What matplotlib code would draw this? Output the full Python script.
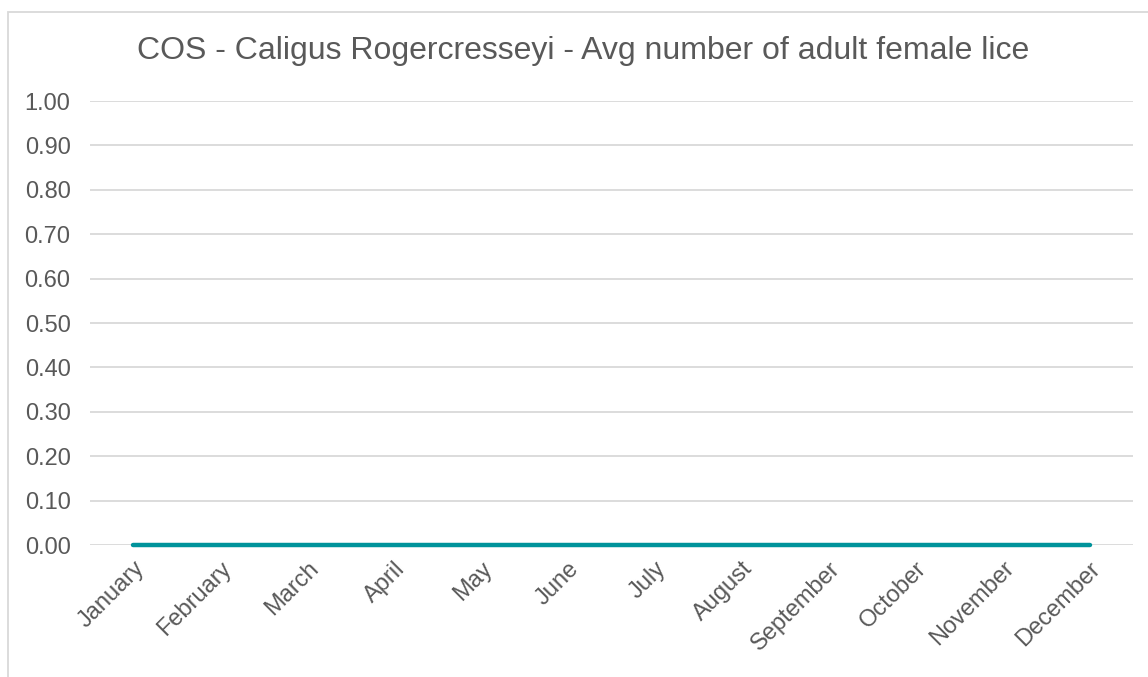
import matplotlib
matplotlib.use("Agg")
import matplotlib.pyplot as plt
from matplotlib.patches import Rectangle

months = ["January", "February", "March", "April", "May", "June", "July",
          "August", "September", "October", "November", "December"]
avg_adult_female = [0.00] * 12
y_ticks = [0.0, 0.1, 0.2, 0.3, 0.4, 0.5, 0.6, 0.7, 0.8, 0.9, 1.0]

W, H = 1148, 677
plt.rcParams["font.family"] = ["Liberation Sans", "DejaVu Sans"]
fig = plt.figure(figsize=(W / 100, H / 100), dpi=100)

# chart frame, running off the right and bottom edges
fig.patches.append(Rectangle((7.5 / W, -0.1), 1.2, 1.1 - 11.5 / H,
                             transform=fig.transFigure, fill=False,
                             edgecolor="#D9D9D9", linewidth=1.3))

ax = fig.add_axes([90 / W, 132 / H, (1133 - 90) / W, (576 - 132) / H])
x = list(range(len(months)))
ax.plot(x, avg_adult_female, color="#00939B", linewidth=3.2,
        solid_capstyle="round", zorder=3, clip_on=False)

ax.set_xlim(-0.5, len(months) - 0.5)
ax.set_ylim(0, 1.0)
ax.set_yticks(y_ticks)
ax.set_yticklabels([f"{v:.2f}" for v in y_ticks])
ax.set_xticks(x)
ax.set_xticklabels(months, rotation=45, ha="right", rotation_mode="anchor")
ax.yaxis.grid(True, color="#D9D9D9", linewidth=1.3)
ax.set_axisbelow(True)
for s in ax.spines.values():
    s.set_visible(False)
ax.tick_params(axis="both", length=0, labelsize=17, colors="#595959")
ax.tick_params(axis="y", pad=14)
ax.tick_params(axis="x", pad=9)

fig.text(583 / W, 1 - 51 / H,
         "COS - Caligus Rogercresseyi - Avg number of adult female lice",
         ha="center", va="center", fontsize=23, color="#595959")

fig.savefig("out.png", dpi=100)
